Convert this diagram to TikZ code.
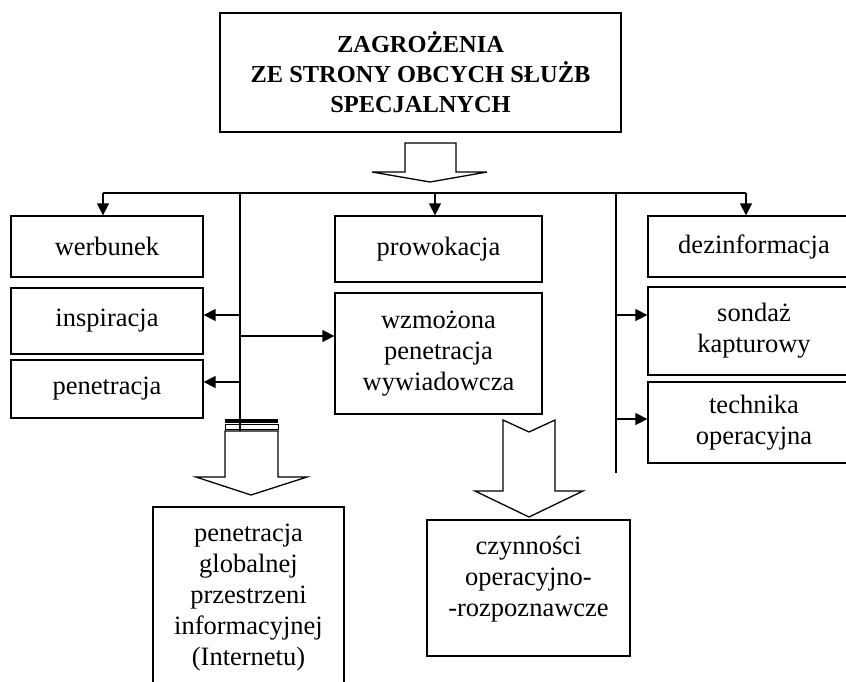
\documentclass[tikz,border=0pt]{standalone}
\usepackage{fontspec}
\setmainfont{Liberation Serif}
\usetikzlibrary{arrows.meta}
\tikzset{
	box/.style={draw, line width=1.3pt, align=center, inner sep=0pt, font=\fontsize{26.5}{31}\selectfont},
	titlebox/.style={box, font=\fontsize{24.4}{30}\selectfont\bfseries},
	link/.style={line width=1.5pt},
	tip/.style={link, -{Triangle[length=12pt,width=12pt]}},
	hollow/.style={line width=1.3pt, fill=white, line join=miter}
}
\begin{document}
\begin{tikzpicture}[x=1pt,y=-1pt]
			\useasboundingbox (0,0) rectangle (846,681);
			\clip (0,0) rectangle (846,681);
			\node[titlebox, minimum width=401pt, minimum height=119pt] (threat) at (420.5,72.5) {ZAGROŻENIA\\ZE STRONY OBCYCH SŁUŻB\\SPECJALNYCH};
			\node[box, minimum width=192pt, minimum height=61pt] (werbunek) at (107,246.5) {werbunek};
			\node[box, minimum width=192pt, minimum height=66pt] (inspiracja) at (107,321) {inspiracja};
			\node[box, minimum width=192pt, minimum height=58pt] (penetracja) at (107,389) {penetracja};
			\node[box, minimum width=207pt, minimum height=66pt] (prowokacja) at (438.5,249) {prowokacja};
			\node[box, minimum width=207pt, minimum height=121pt] (wzmozona) at (438.5,353.5) {wzmożona\\penetracja\\wywiadowcza};
			\node[box, minimum width=212pt, minimum height=61pt] (dezinformacja) at (754,246.5) {dezinformacja};
			\node[box, minimum width=212pt, minimum height=88pt] (sondaz) at (754,331) {sondaż\\kapturowy};
			\node[box, minimum width=212pt, minimum height=81pt] (technika) at (754,422.5) {technika\\operacyjna};
			\node[box, minimum width=191pt, minimum height=181pt] (internet) at (248.5,597.5) {penetracja\\globalnej\\przestrzeni\\informacyjnej\\(Internetu)};
			\node[box, minimum width=203pt, minimum height=136pt,
				label={[box, draw=none, yshift=9pt]center:czynności\\operacyjno-\\-rozpoznawcze}] (czynnosci) at (528.5,588) {};
			% szyna rozdzielcza
			\coordinate (hl) at (103,193);
			\coordinate (hm) at (435,193);
			\coordinate (hr) at (746,193);
			\coordinate (lt) at (240,193);
			\coordinate (lb) at (240,432);
			\coordinate (li) at (240,315);
			\coordinate (lp) at (240,382);
			\coordinate (lw) at (240,336);
			\coordinate (rt) at (616,193);
			\coordinate (rb) at (616,473);
			\coordinate (rs) at (616,315);
			\coordinate (rk) at (616,419);
			\draw[link] (hl) -- (hr);
			\draw[tip] (hl) -- (hl |- werbunek.north);
			\draw[tip] (hm) -- (hm |- prowokacja.north);
			\draw[tip] (hr) -- (hr |- dezinformacja.north);
			\draw[link] (lt) -- (lb);
			\draw[tip] (li) -- (li -| inspiracja.east);
			\draw[tip] (lp) -- (lp -| penetracja.east);
			\draw[tip] (lw) -- (lw -| wzmozona.west);
			\draw[link] (rt) -- (rb);
			\draw[tip] (rs) -- (rs -| sondaz.west);
			\draw[tip] (rk) -- (rk -| technika.west);
			% strzalki blokowe
			\draw[hollow] (405,143) -- (405,172) -- (372,172) -- (430,182) -- (487,172) -- (456,172) -- (456,143) -- cycle;
			\fill (225,419) rectangle (278,423);
			\draw[line width=1pt] (225,424.5) rectangle (278,429);
			\draw[hollow] (225,431) -- (225,477) -- (196,477) -- (251,495) -- (307,477) -- (278,477) -- (278,431) -- cycle;
			\draw[hollow] (503,420) -- (529,432) -- (555,420) -- (555,491) -- (583,491) -- (529,517) -- (475,491) -- (503,491) -- cycle;
		\end{tikzpicture}
\end{document}
